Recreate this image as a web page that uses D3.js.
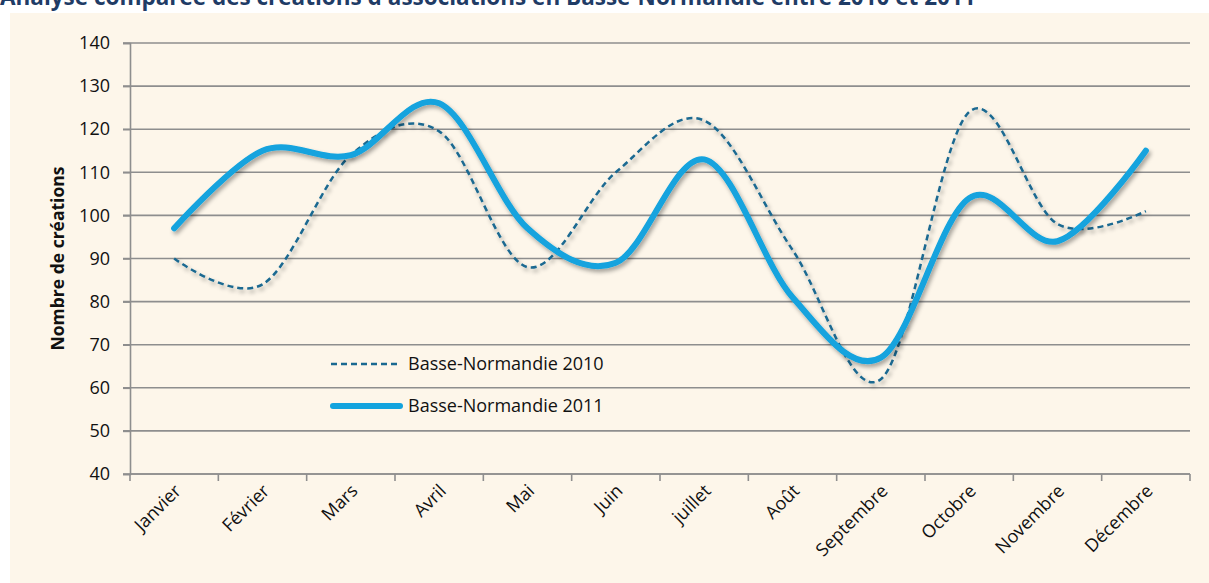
<!DOCTYPE html>
<html>
<head>
<meta charset="utf-8">
<script src="https://cdn.jsdelivr.net/npm/d3@7"></script>
<style>
  body { margin: 0; background: #fff; }
  svg { display: block; }
  text { font-family: "Open Sans", "Noto Sans", sans-serif; }
</style>
</head>
<body>
<svg id="chart" width="1209" height="583"></svg>
<script>
// data
const months = ["Janvier", "Février", "Mars", "Avril", "Mai", "Juin", "juillet",
  "Août", "Septembre", "Octobre", "Novembre", "Décembre"];
const values2010 = [90, 84, 114, 119.5, 88, 110, 122, 92, 62, 124, 98, 101];
const values2011 = [97, 115, 114, 126, 97, 89, 113, 81, 67, 104, 94, 115];
const yTicks = [40, 50, 60, 70, 80, 90, 100, 110, 120, 130, 140];
const seriesNames = ["Basse-Normandie 2010", "Basse-Normandie 2011"];
const title = "Analyse comparée des créations d'associations en Basse-Normandie entre 2010 et 2011";
const yTitle = "Nombre de créations";

const margin = { top: 43, right: 19, bottom: 109, left: 130 };
const W = 1209, H = 583;

const svg = d3.select("#chart");

// drop shadow for the lines
const defs = svg.append("defs");
defs.append("filter")
  .attr("id", "shadow")
  .attr("x", "-10%").attr("y", "-10%")
  .attr("width", "120%").attr("height", "130%")
  .append("feDropShadow")
  .attr("dx", 2).attr("dy", 3)
  .attr("stdDeviation", 2)
  .attr("flood-color", "#000")
  .attr("flood-opacity", 0.35);

// title (cut off at the top, as in the source)
svg.append("text")
  .attr("x", 0).attr("y", 5)
  .attr("font-size", 22.5).attr("font-weight", "bold")
  .attr("fill", "#1F3C66")
  .text(title);

// panel
svg.append("rect")
  .attr("x", 10).attr("y", 13)
  .attr("width", W - 10).attr("height", H - 13)
  .attr("fill", "#FDF6EA");

const x = d3.scaleBand().domain(months).range([margin.left, W - margin.right]);
const y = d3.scaleLinear().domain([40, 140]).range([H - margin.bottom, margin.top]);

// grid lines
svg.append("g")
  .selectAll("line")
  .data(yTicks)
  .join("line")
  .attr("x1", margin.left - 7).attr("x2", W - margin.right)
  .attr("y1", d => y(d)).attr("y2", d => y(d))
  .attr("stroke", "#8E8E8E").attr("stroke-width", 1.6);

// y axis
const yAxis = svg.append("g")
  .attr("transform", `translate(${margin.left},0)`)
  .call(d3.axisLeft(y).tickValues(yTicks).tickSize(7).tickPadding(13));
yAxis.select(".domain").attr("stroke", "#8E8E8E").attr("stroke-width", 1.6);
yAxis.selectAll(".tick line").attr("stroke", "#8E8E8E").attr("stroke-width", 1.6);
yAxis.selectAll(".tick text")
  .attr("font-size", 18).attr("fill", "#111")
  .attr("font-family", "'Open Sans', sans-serif");

// x axis: ticks at category boundaries, labels at centres
const xAxis = svg.append("g")
  .attr("transform", `translate(0,${y(40)})`);
xAxis.append("line")
  .attr("x1", margin.left).attr("x2", W - margin.right)
  .attr("stroke", "#8E8E8E").attr("stroke-width", 1.6);
xAxis.selectAll(".bound")
  .data(months.map(m => x(m)).concat([x.range()[1]]))
  .join("line")
  .attr("class", "bound")
  .attr("x1", d => d).attr("x2", d => d)
  .attr("y1", 0).attr("y2", 7)
  .attr("stroke", "#8E8E8E").attr("stroke-width", 1.6);
xAxis.selectAll(".lbl")
  .data(months)
  .join("text")
  .attr("class", "lbl")
  .attr("font-size", 18).attr("fill", "#111")
  .attr("text-anchor", "end")
  .attr("transform", d => `translate(${x(d) + x.bandwidth() / 2 + 8},${18}) rotate(-45)`)
  .text(d => d);

// y title
svg.append("text")
  .attr("transform", `translate(64,${(y(40) + y(140)) / 2}) rotate(-90)`)
  .attr("text-anchor", "middle")
  .attr("font-size", 17.5).attr("font-weight", "bold").attr("fill", "#111")
  .text(yTitle);

// lines
const line = d3.line()
  .x((d, i) => x(months[i]) + x.bandwidth() / 2)
  .y(d => y(d))
  .curve(d3.curveCardinal.tension(0));

svg.append("path")
  .datum(values2010)
  .attr("d", line)
  .attr("fill", "none")
  .attr("stroke", "#1A6991")
  .attr("stroke-width", 2.5)
  .attr("stroke-dasharray", "6,4")
  .attr("filter", "url(#shadow)");

svg.append("path")
  .datum(values2011)
  .attr("d", line)
  .attr("fill", "none")
  .attr("stroke", "#12A3DE")
  .attr("stroke-width", 6)
  .attr("stroke-linecap", "round")
  .attr("stroke-linejoin", "round")
  .attr("filter", "url(#shadow)");

// legend
const legend = svg.append("g").attr("transform", "translate(331,364)");
legend.append("line")
  .attr("x1", 0).attr("x2", 70).attr("y1", 0).attr("y2", 0)
  .attr("stroke", "#1A6991").attr("stroke-width", 2.5)
  .attr("stroke-dasharray", "6,4");
legend.append("line")
  .attr("x1", 2).attr("x2", 69).attr("y1", 42).attr("y2", 42)
  .attr("stroke", "#12A3DE").attr("stroke-width", 6)
  .attr("stroke-linecap", "round");
legend.selectAll("text")
  .data(seriesNames)
  .join("text")
  .attr("x", 77)
  .attr("y", (d, i) => i * 42 + 6)
  .attr("font-size", 18).attr("fill", "#111")
  .text(d => d);
</script>
</body>
</html>
